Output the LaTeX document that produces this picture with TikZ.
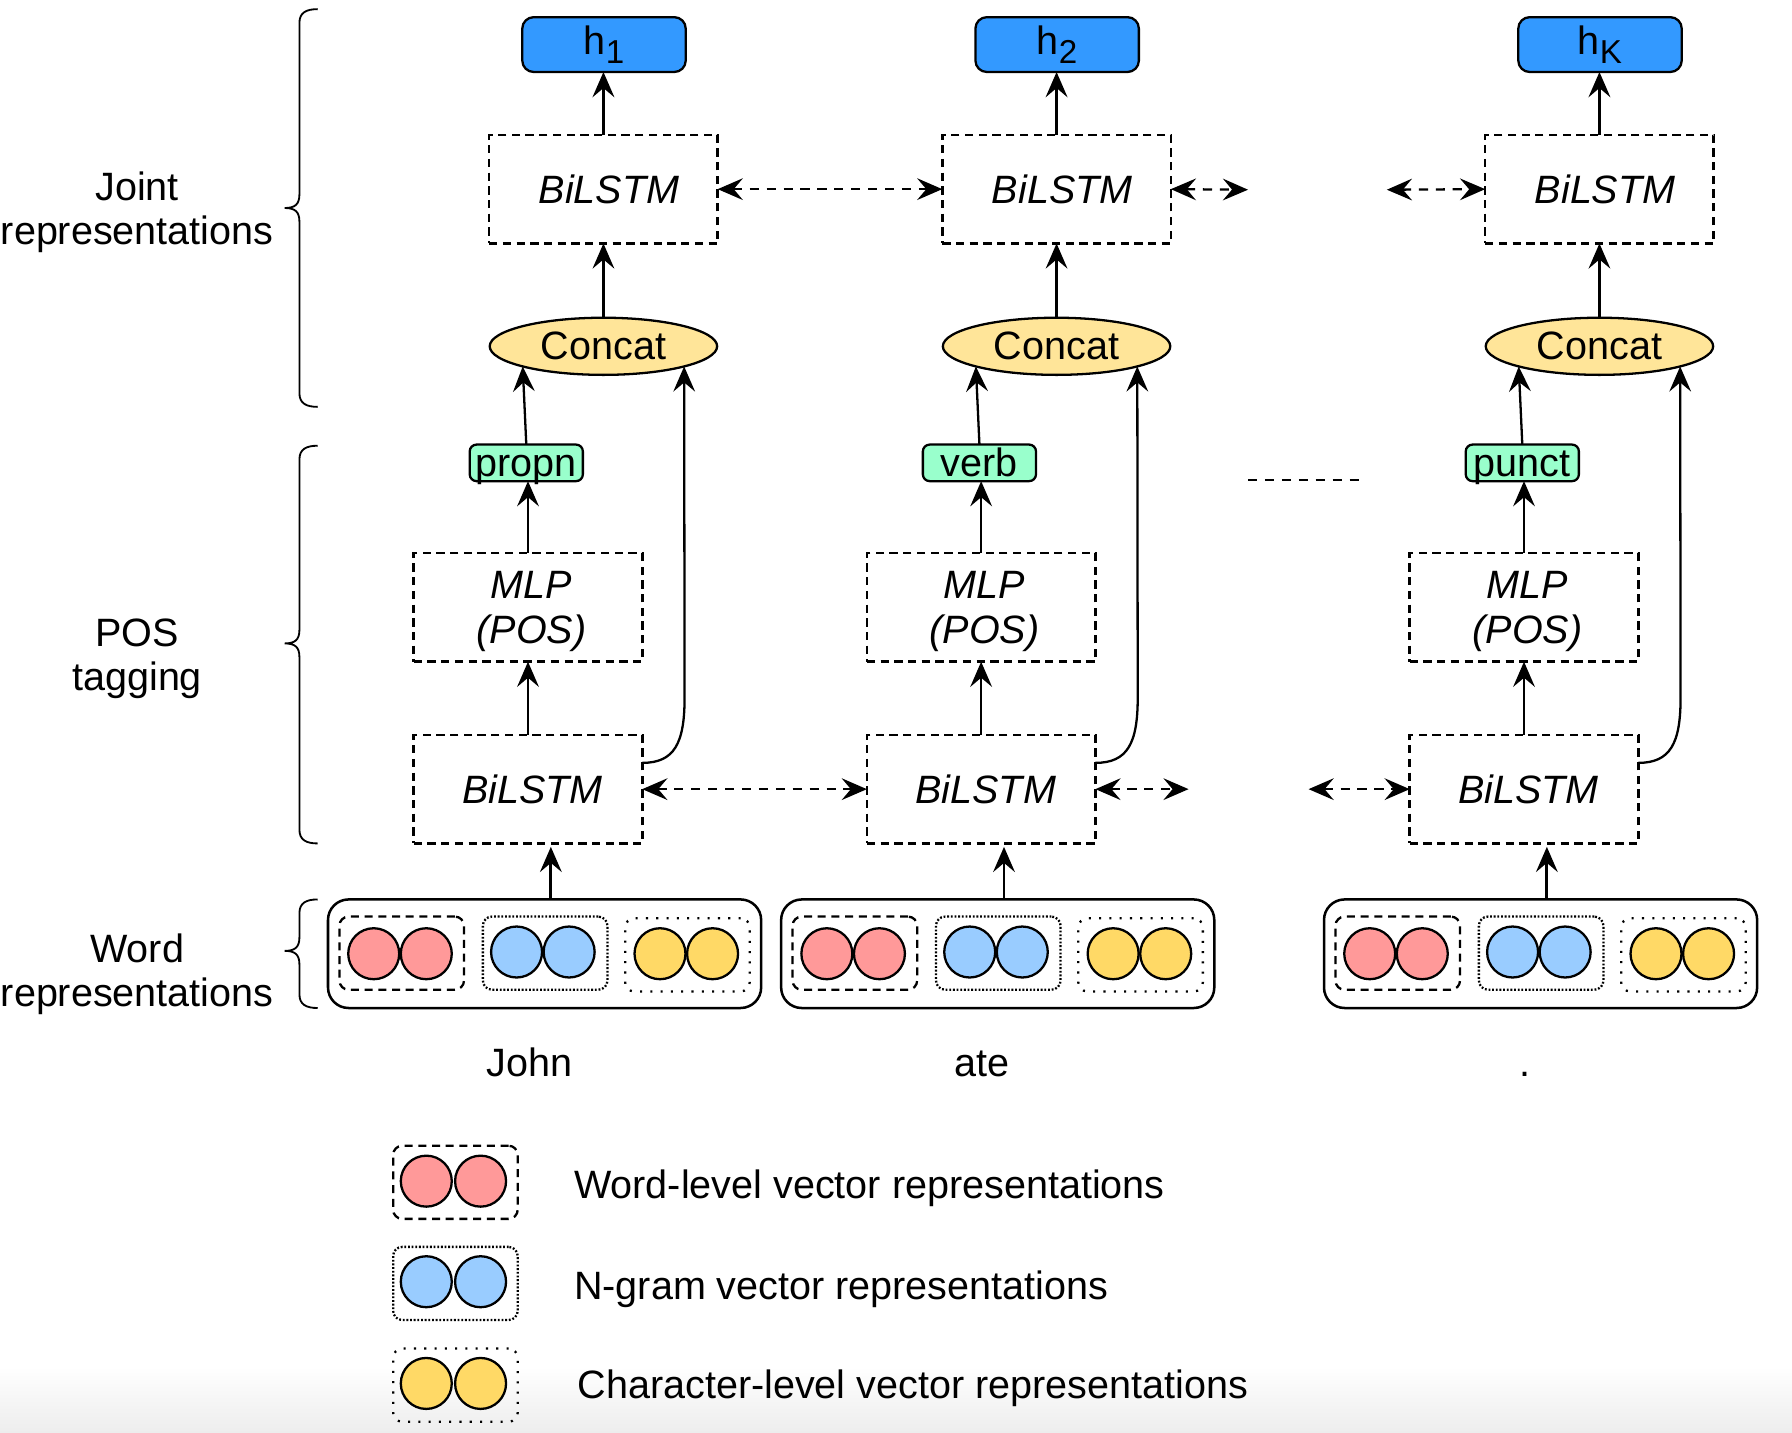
\documentclass[tikz,border=0pt]{standalone}
\usepackage{fontspec}
\setmainfont{Liberation Sans}
\usetikzlibrary{arrows.meta,shapes.geometric,calc}
\definecolor{hblue}{HTML}{3399FF}
\definecolor{tagg}{HTML}{99FFCC}
\definecolor{concy}{HTML}{FFE599}
\definecolor{cred}{HTML}{FF9999}
\definecolor{cblue}{HTML}{99CCFF}
\definecolor{cyel}{HTML}{FFD966}
\tikzset{
  tip/.tip={Stealth[length=11pt,width=9.5pt,inset=4pt]},
  hbox/.style={draw, line width=1pt, fill=hblue, rounded corners=5pt, minimum width=71.5pt, minimum height=24pt, inner sep=0pt, outer sep=0pt},
  dbox/.style={draw, line width=1.1pt, dash pattern=on 3.6pt off 2.4pt, minimum width=100pt, minimum height=47.5pt, inner sep=0pt, outer sep=0pt, font=\itshape\fontsize{17.3}{19.5}\selectfont, align=center},
  concat/.style={ellipse, draw, line width=1pt, fill=concy, minimum width=99.5pt, minimum height=25pt, inner sep=0pt, outer sep=0pt},
  tagbox/.style={draw, line width=1pt, fill=tagg, rounded corners=3pt, minimum width=49.5pt, minimum height=16pt, inner sep=0pt, outer sep=0pt, text height=12pt, text depth=0pt},
  wbox/.style={draw, line width=1.1pt, rounded corners=9pt, minimum width=189.5pt, minimum height=47.5pt, inner sep=0pt, outer sep=0pt},
  grp/.style={draw, line width=1pt, rounded corners=4pt, minimum width=54.5pt, minimum height=32pt, inner sep=0pt},
  gred/.style={grp, dash pattern=on 3.5pt off 2.5pt},
  gblue/.style={grp, dash pattern=on 0.8pt off 0.8pt},
  gyel/.style={grp, dash pattern=on 0.9pt off 3.6pt},
  dot/.style={circle, draw, line width=1pt, minimum size=22.3pt, inner sep=0pt},
  arr/.style={-tip, line width=1pt},
  tarr/.style={arr, line width=1.6pt},
  marr/.style={arr, line width=1.3pt},
  darr/.style={tip-tip, line width=1pt, dash pattern=on 4pt off 3.4pt},
  bracestyle/.style={line width=0.8pt},
  lbl/.style={align=center, text depth=0pt},
}
\begin{document}
\begin{tikzpicture}[x=0.5pt, y=-0.5pt, font=\fontsize{17.3}{19.5}\selectfont]
\useasboundingbox (0,0) rectangle (1568,1253);
\shade[top color=white, bottom color=black!7] (0,1196) rectangle (1568,1253);

% braces
\foreach \ta/\mb/\bb in {8/182/356, 390/563/738, 787/832/882}{
  \draw[bracestyle] (278,\ta) .. controls (268,\ta) and (262,\ta+3) .. (262,\ta+12)
    -- (262,\mb-12) .. controls (262,\mb-3) and (258,\mb) .. (249,\mb)
    .. controls (258,\mb) and (262,\mb+3) .. (262,\mb+12)
    -- (262,\bb-12) .. controls (262,\bb-3) and (268,\bb) .. (278,\bb);
}
\node[lbl] (lj) at (120,182) {Joint\\representations};
\node[lbl] (lp) at (120,573) {POS\\tagging};
\node[lbl] (lw) at (120,849) {Word\\representations};

% columns
\foreach \i/\dx/\hlab/\tg in {1/0/1/propn, 2/396.5/2/verb, 3/871.5/K/punct}{
  \node[hbox] (h\i) at (528.5+\dx,39) {h\raisebox{-3.8pt}{\fontsize{14.5}{14.5}\selectfont \hlab}};
  \node[dbox] (bt\i) at (528+\dx,165.5) {\kern5pt BiLSTM};
  \node[concat] (c\i) at (528+\dx,303) {\raisebox{-1pt}{Concat}};
  \node[tagbox] (t\i) at (460.5+\dx,405) {\tg};
  \node[dbox, text depth=-5pt] (m\i) at (462+\dx,531.5) {\kern3pt MLP\\\kern3pt (POS)};
  \node[dbox] (lb\i) at (462+\dx,690.5) {\kern4pt BiLSTM};
  \node[wbox] (w\i) at (476.5+\dx,834.5) {};
  \node[gred] (gr\i) at (351.5+\dx,834) {};
  \node[gblue] (gb\i) at (477+\dx,834) {};
  \node[gyel] (gy\i) at (601.5+\dx,835.5) {};
  \node[dot, fill=cred] (ra\i) at (327+\dx,834.5) {};
  \node[dot, fill=cred] (rb\i) at (373+\dx,834.5) {};
  \node[dot, fill=cblue] (ba\i) at (452+\dx,833) {};
  \node[dot, fill=cblue] (bb\i) at (498+\dx,833) {};
  \node[dot, fill=cyel] (ya\i) at (577.5+\dx,834.5) {};
  \node[dot, fill=cyel] (yb\i) at (623.5+\dx,834.5) {};
  % arrows
  \draw[tarr] (bt\i.north) -- (bt\i.north |- h\i.south);
  \draw[arr] (c\i.north) -- (bt\i.south);
  \draw[arr] (t\i.north) -- (c\i.194.6);
  \draw[arr] (m\i.north) -- (m\i.north |- t\i.south);
  \draw[arr] (lb\i.north) -- (m\i.south);
  \draw[marr] ([xshift=2.75pt]w\i.north) -- ([xshift=2.75pt,yshift=-1.5pt]w\i.north |- lb\i.south);
  \draw[arr] ($(lb\i.east)+(0,-23)$) .. controls +(28,0) and +(0,40) .. ($(lb\i.east)+(37,-80)$) -- (c\i.-14.4);
}

% word labels
\node[anchor=base] (wl1) at (463,942) {John};
\node[anchor=base] (wl2) at (859.5,942) {ate};
\node[anchor=base] (wl3) at (1334.5,942) {.};

% horizontal bidirectional arrows
\coordinate (q1) at (1092,166);
\coordinate (q2) at (1213.5,166);
\coordinate (r1) at (1040,690.5);
\coordinate (r2) at (1145,690.5);
\draw[darr] (bt1.east) -- (bt2.west);
\draw[darr] (bt2.east) -- (q1);
\draw[darr] (q2) -- (bt3.west);
\draw[darr] (lb1.east) -- (lb2.west);
\draw[darr] (lb2.east) -- (r1);
\draw[darr] (r2) -- (lb3.west);
\coordinate (d1) at (1092,420);
\coordinate (d2) at (1190,420);
\draw[line width=1pt, dash pattern=on 4pt off 3.4pt] (d1) -- (d2);

% legend
\node[gred] (lg1) at (398.5,1034.5) {};
\node[dot, fill=cred] (l1a) at (373,1033.5) {};
\node[dot, fill=cred] (l1b) at (420.5,1033.5) {};
\node[gblue] (lg2) at (398.5,1123) {};
\node[dot, fill=cblue] (l2a) at (373,1121.5) {};
\node[dot, fill=cblue] (l2b) at (420.5,1121.5) {};
\node[gyel] (lg3) at (398.5,1212) {};
\node[dot, fill=cyel] (l3a) at (373,1210.5) {};
\node[dot, fill=cyel] (l3b) at (420.5,1210.5) {};
\node[anchor=base west, inner sep=0pt] (lt1) at (502,1048.4) {Word-level vector representations};
\node[anchor=base west, inner sep=0pt] (lt2) at (502,1137) {N-gram vector representations};
\node[anchor=base west, inner sep=0pt] (lt3) at (505,1223.4) {Character-level vector representations};
\end{tikzpicture}
\end{document}
